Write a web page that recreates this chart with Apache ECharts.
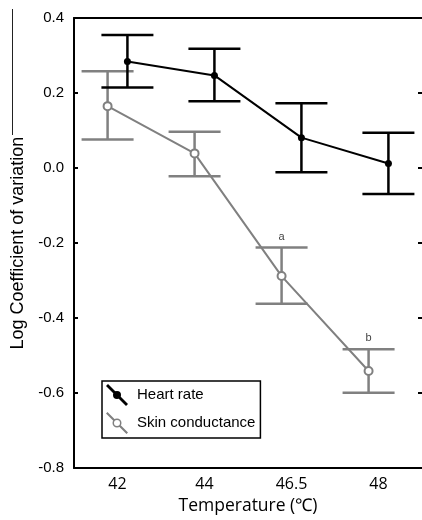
<!DOCTYPE html>
<html>
<head>
<meta charset="utf-8">
<style>
  html, body { margin: 0; padding: 0; background: #fff; }
  #chart { width: 422px; height: 520px; }
</style>
<script src="https://cdn.jsdelivr.net/npm/echarts@6/dist/echarts.min.js"></script>
</head>
<body>
<div id="chart"></div>
<script>
// temperatures on the x axis
var categories = ['42', '44', '46.5', '48'];

// heart rate: mean and error bar ends
var heartRate = [0.284, 0.247, 0.081, 0.012];
var heartRateHi = [0.355, 0.318, 0.173, 0.094];
var heartRateLo = [0.215, 0.178, -0.011, -0.069];

// skin conductance: mean and error bar ends
var skinCond = [0.165, 0.039, -0.288, -0.541];
var skinCondHi = [0.258, 0.097, -0.212, -0.483];
var skinCondLo = [0.076, -0.022, -0.362, -0.599];
var skinMarks = ['', '', 'a', 'b'];

var BLACK = '#000';
var GRAY = '#808080';
var SHIFT = 0.114; // horizontal dodge of the two series, in category units

var chart = echarts.init(document.getElementById('chart'), null, {renderer: 'canvas'});

function errorBars(name, color, lo, hi, off, marks) {
    return {
        name: name,
        type: 'custom',
        xAxisIndex: 2,
        yAxisIndex: 0,
        z: 2,
        encode: {x: 0, y: [1, 2]},
        data: lo.map(function (v, i) { return [i + off, v, hi[i]]; }),
        renderItem: function (params, api) {
            var x = api.value(0);
            var b = api.coord([x, api.value(1)]);
            var t = api.coord([x, api.value(2)]);
            var w = 26;
            var st = {stroke: color, lineWidth: 2.5};
            var kids = [
                {type: 'line', shape: {x1: t[0], y1: t[1], x2: b[0], y2: b[1]}, style: st},
                {type: 'line', shape: {x1: t[0] - w, y1: t[1], x2: t[0] + w, y2: t[1]}, style: st},
                {type: 'line', shape: {x1: b[0] - w, y1: b[1], x2: b[0] + w, y2: b[1]}, style: st}
            ];
            var m = marks ? marks[params.dataIndex] : '';
            if (m) {
                kids.push({type: 'text', style: {
                    text: m, x: t[0], y: t[1] - 11, align: 'center', verticalAlign: 'middle',
                    fontSize: 11, fontFamily: 'Liberation Sans', fill: '#444'
                }});
            }
            return {type: 'group', children: kids};
        }
    };
}

// legend icons: a diagonal stroke with a dot / an open ring
var hrIcon = 'path://M0,2 L2,0 L22,20 L20,22 Z M15,11 A4,4 0 1,1 7,11 A4,4 0 1,1 15,11 Z';
var scIcon = 'path://M0,1.5 L1.5,0 L9,7.5 L7.5,9 Z M13,14.5 L14.5,13 L22,20.5 L20.5,22 Z ' +
    'M15.5,11 A4.5,4.5 0 1,1 6.5,11 A4.5,4.5 0 1,1 15.5,11 Z M14,11 A3,3 0 1,0 8,11 A3,3 0 1,0 14,11 Z';

var axisLine = {show: true, onZero: false, lineStyle: {color: BLACK, width: 2}};
var tickIn = {inside: true, length: 4, alignWithLabel: true, lineStyle: {color: BLACK, width: 2}};
var yTick = {show: true, inside: true, length: 4, lineStyle: {color: BLACK, width: 2}};

var option = {
    animation: false,
    backgroundColor: '#fff',
    grid: {left: 74, width: 350, top: 18, bottom: 47},
    legend: {
        left: 102,
        top: 381,
        orient: 'vertical',
        padding: [3, 5, 4, 4],
        itemWidth: 22,
        itemHeight: 22,
        itemGap: 6,
        borderColor: BLACK,
        borderWidth: 1.5,
        textStyle: {fontSize: 15, fontFamily: 'Liberation Sans', color: BLACK, padding: [0, 0, 0, 4]},
        data: [
            {name: 'Heart rate', icon: hrIcon, itemStyle: {color: BLACK, borderWidth: 0}},
            {name: 'Skin conductance', icon: scIcon, itemStyle: {color: GRAY, borderWidth: 0}}
        ]
    },
    xAxis: [
        {
            type: 'category',
            data: categories,
            position: 'bottom',
            axisLine: axisLine,
            axisTick: tickIn,
            axisLabel: {margin: 8, fontSize: 16, fontFamily: 'Open Sans', color: BLACK},
            name: 'Temperature (℃)',
            nameLocation: 'middle',
            nameGap: 26,
            nameTextStyle: {fontSize: 17.5, fontFamily: 'Open Sans', color: BLACK}
        },
        {
            type: 'category',
            data: categories,
            position: 'top',
            axisLine: axisLine,
            axisTick: tickIn,
            axisLabel: {show: false}
        },
        {type: 'value', min: -0.5, max: 3.5, show: false, axisLine: {onZero: false}}
    ],
    yAxis: [
        {
            type: 'value',
            min: -0.8,
            max: 0.4,
            interval: 0.2,
            position: 'left',
            axisLine: axisLine,
            axisTick: yTick,
            splitLine: {show: false},
            axisLabel: {
                margin: 10, fontSize: 15, fontFamily: 'Liberation Sans', color: BLACK,
                formatter: function (v) { return v.toFixed(1); }
            },
            name: 'Log Coefficient of variation',
            nameLocation: 'middle',
            nameGap: 43,
            nameTextStyle: {fontSize: 18, fontFamily: 'Liberation Sans', color: BLACK}
        },
        {
            type: 'value',
            min: -0.8,
            max: 0.4,
            interval: 0.2,
            position: 'right',
            axisLine: {show: false, onZero: false},
            axisTick: yTick,
            splitLine: {show: false},
            axisLabel: {show: false}
        }
    ],
    graphic: [
        // stray rule at the far left of the panel
        {type: 'line', shape: {x1: 12.5, y1: 9, x2: 12.5, y2: 135}, style: {stroke: '#222', lineWidth: 1}}
    ],
    series: [
        errorBars('Skin conductance bars', GRAY, skinCondLo, skinCondHi, -SHIFT, skinMarks),
        errorBars('Heart rate bars', BLACK, heartRateLo, heartRateHi, SHIFT, null),
        {
            name: 'Skin conductance',
            type: 'line',
            xAxisIndex: 2,
            yAxisIndex: 0,
            z: 3,
            symbol: 'emptyCircle',
            symbolSize: 8,
            lineStyle: {color: GRAY, width: 2},
            itemStyle: {color: GRAY, borderWidth: 1.5},
            data: skinCond.map(function (v, i) { return [i - SHIFT, v]; })
        },
        {
            name: 'Heart rate',
            type: 'line',
            xAxisIndex: 2,
            yAxisIndex: 0,
            z: 4,
            symbol: 'circle',
            symbolSize: 7,
            lineStyle: {color: BLACK, width: 2},
            itemStyle: {color: BLACK},
            data: heartRate.map(function (v, i) { return [i + SHIFT, v]; })
        }
    ]
};

chart.setOption(option);
</script>
</body>
</html>
